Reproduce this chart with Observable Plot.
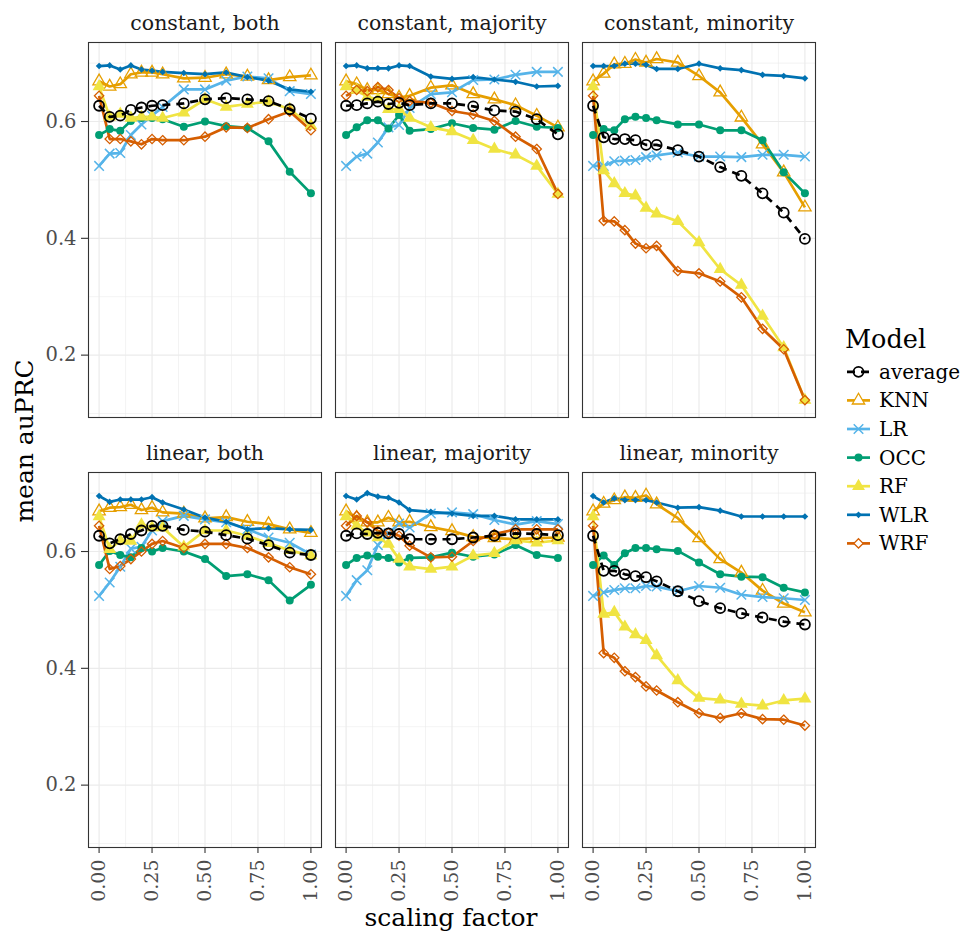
<!DOCTYPE html>
<html>
<head>
<meta charset="utf-8">
<script src="https://cdn.jsdelivr.net/npm/d3@7"></script>
<script src="https://cdn.jsdelivr.net/npm/@observablehq/plot@0.6"></script>
<style>
  html, body { margin: 0; padding: 0; background: #ffffff; }
  #chart { position: relative; width: 960px; height: 935px; }
</style>
</head>
<body>
<div id="chart"></div>
<script>
// Scaling factors evaluated on the x axis
const scalingFactor = [0, 0.05, 0.1, 0.15, 0.2, 0.25, 0.3, 0.4, 0.5, 0.6, 0.7, 0.8, 0.9, 1];

// Facet categories
const scalingTypes = ["constant", "linear"];
const targetGroups = ["both", "majority", "minority"];
const modelNames = ["average", "KNN", "LR", "OCC", "RF", "WLR", "WRF"];

// Tick values
const yTicks = [0.2, 0.4, 0.6];
const yMinorTicks = [0.1, 0.3, 0.5, 0.7];
const xTicks = [0, 0.25, 0.5, 0.75, 1];
const xMinorTicks = [0.125, 0.375, 0.625, 0.875];

// constant, both
const constantBothAverage = [0.627, 0.608, 0.610, 0.620, 0.624, 0.627, 0.628, 0.631, 0.638, 0.640, 0.638, 0.635, 0.621, 0.605];
const constantBothKNN     = [0.669, 0.660, 0.664, 0.681, 0.684, 0.684, 0.681, 0.674, 0.675, 0.681, 0.677, 0.671, 0.676, 0.679];
const constantBothLR      = [0.524, 0.545, 0.546, 0.577, 0.595, 0.610, 0.625, 0.655, 0.655, 0.670, 0.677, 0.674, 0.652, 0.647];
const constantBothOCC     = [0.577, 0.587, 0.584, 0.601, 0.606, 0.606, 0.604, 0.591, 0.600, 0.592, 0.589, 0.566, 0.514, 0.477];
const constantBothRF      = [0.660, 0.608, 0.613, 0.606, 0.608, 0.608, 0.606, 0.615, 0.638, 0.625, 0.630, 0.634, 0.621, 0.593];
const constantBothWLR     = [0.695, 0.696, 0.689, 0.696, 0.689, 0.687, 0.685, 0.683, 0.681, 0.684, 0.676, 0.670, 0.655, 0.651];
const constantBothWRF     = [0.644, 0.570, 0.570, 0.566, 0.561, 0.570, 0.568, 0.568, 0.574, 0.590, 0.589, 0.604, 0.617, 0.585];

// constant, majority
const constantMajorityAverage = [0.627, 0.628, 0.631, 0.634, 0.630, 0.632, 0.628, 0.631, 0.631, 0.626, 0.619, 0.617, 0.604, 0.578];
const constantMajorityKNN     = [0.669, 0.664, 0.654, 0.654, 0.647, 0.641, 0.644, 0.658, 0.662, 0.647, 0.638, 0.628, 0.610, 0.590];
const constantMajorityLR      = [0.524, 0.540, 0.545, 0.564, 0.590, 0.594, 0.623, 0.647, 0.650, 0.671, 0.672, 0.680, 0.685, 0.685];
const constantMajorityOCC     = [0.577, 0.590, 0.602, 0.602, 0.588, 0.611, 0.584, 0.587, 0.597, 0.589, 0.586, 0.601, 0.591, 0.589];
const constantMajorityRF      = [0.660, 0.654, 0.642, 0.638, 0.621, 0.621, 0.606, 0.590, 0.583, 0.568, 0.553, 0.543, 0.524, 0.476];
const constantMajorityWLR     = [0.695, 0.696, 0.691, 0.691, 0.691, 0.696, 0.695, 0.677, 0.673, 0.676, 0.672, 0.668, 0.660, 0.661];
const constantMajorityWRF     = [0.644, 0.654, 0.652, 0.659, 0.654, 0.640, 0.635, 0.632, 0.618, 0.612, 0.601, 0.574, 0.553, 0.476];

// constant, minority
const constantMinorityAverage = [0.627, 0.573, 0.570, 0.570, 0.568, 0.560, 0.560, 0.551, 0.540, 0.522, 0.507, 0.477, 0.444, 0.399];
const constantMinorityKNN     = [0.669, 0.682, 0.698, 0.699, 0.706, 0.701, 0.707, 0.701, 0.678, 0.650, 0.607, 0.561, 0.513, 0.453];
const constantMinorityLR      = [0.524, 0.524, 0.532, 0.533, 0.534, 0.539, 0.542, 0.547, 0.540, 0.540, 0.539, 0.543, 0.543, 0.540];
const constantMinorityOCC     = [0.577, 0.587, 0.585, 0.604, 0.608, 0.606, 0.602, 0.595, 0.595, 0.585, 0.585, 0.568, 0.513, 0.477];
const constantMinorityRF      = [0.660, 0.516, 0.494, 0.477, 0.473, 0.452, 0.442, 0.429, 0.393, 0.347, 0.320, 0.267, 0.213, 0.123];
const constantMinorityWLR     = [0.695, 0.695, 0.695, 0.699, 0.699, 0.697, 0.690, 0.690, 0.699, 0.691, 0.688, 0.680, 0.678, 0.674];
const constantMinorityWRF     = [0.644, 0.430, 0.429, 0.414, 0.391, 0.383, 0.387, 0.344, 0.340, 0.326, 0.299, 0.245, 0.210, 0.123];

// linear, both
const linearBothAverage = [0.627, 0.614, 0.621, 0.630, 0.636, 0.644, 0.644, 0.637, 0.634, 0.628, 0.622, 0.611, 0.598, 0.594];
const linearBothKNN     = [0.669, 0.675, 0.676, 0.680, 0.671, 0.675, 0.667, 0.665, 0.657, 0.659, 0.651, 0.647, 0.638, 0.632];
const linearBothLR      = [0.524, 0.547, 0.574, 0.605, 0.608, 0.636, 0.652, 0.661, 0.655, 0.650, 0.638, 0.624, 0.615, 0.595];
const linearBothOCC     = [0.577, 0.601, 0.594, 0.590, 0.606, 0.600, 0.606, 0.600, 0.587, 0.558, 0.561, 0.551, 0.516, 0.543];
const linearBothRF      = [0.660, 0.604, 0.619, 0.618, 0.646, 0.641, 0.641, 0.608, 0.636, 0.636, 0.627, 0.614, 0.602, 0.593];
const linearBothWLR     = [0.695, 0.685, 0.689, 0.689, 0.689, 0.693, 0.684, 0.672, 0.658, 0.651, 0.638, 0.640, 0.638, 0.637];
const linearBothWRF     = [0.644, 0.570, 0.575, 0.587, 0.600, 0.613, 0.618, 0.606, 0.613, 0.613, 0.606, 0.590, 0.573, 0.561];

// linear, majority
const linearMajorityAverage = [0.627, 0.631, 0.630, 0.632, 0.631, 0.630, 0.621, 0.621, 0.621, 0.624, 0.627, 0.631, 0.630, 0.628];
const linearMajorityKNN     = [0.669, 0.658, 0.650, 0.650, 0.658, 0.650, 0.651, 0.642, 0.635, 0.625, 0.623, 0.621, 0.623, 0.624];
const linearMajorityLR      = [0.524, 0.551, 0.568, 0.611, 0.631, 0.648, 0.641, 0.665, 0.667, 0.664, 0.654, 0.646, 0.652, 0.647];
const linearMajorityOCC     = [0.577, 0.589, 0.593, 0.591, 0.589, 0.581, 0.589, 0.590, 0.598, 0.591, 0.595, 0.611, 0.594, 0.589];
const linearMajorityRF      = [0.660, 0.644, 0.632, 0.624, 0.613, 0.587, 0.574, 0.570, 0.574, 0.593, 0.597, 0.619, 0.615, 0.619];
const linearMajorityWLR     = [0.695, 0.689, 0.700, 0.694, 0.692, 0.684, 0.671, 0.668, 0.665, 0.661, 0.661, 0.655, 0.655, 0.655];
const linearMajorityWRF     = [0.644, 0.661, 0.650, 0.635, 0.632, 0.627, 0.610, 0.590, 0.591, 0.618, 0.630, 0.638, 0.638, 0.638];

// linear, minority
const linearMinorityAverage = [0.627, 0.567, 0.567, 0.561, 0.558, 0.556, 0.549, 0.532, 0.515, 0.503, 0.494, 0.487, 0.480, 0.475];
const linearMinorityKNN     = [0.669, 0.682, 0.688, 0.693, 0.692, 0.696, 0.681, 0.657, 0.623, 0.587, 0.564, 0.533, 0.511, 0.496];
const linearMinorityLR      = [0.524, 0.530, 0.534, 0.537, 0.537, 0.541, 0.540, 0.532, 0.541, 0.538, 0.526, 0.522, 0.520, 0.517];
const linearMinorityOCC     = [0.577, 0.593, 0.577, 0.597, 0.606, 0.606, 0.604, 0.601, 0.581, 0.561, 0.557, 0.556, 0.538, 0.530];
const linearMinorityRF      = [0.660, 0.493, 0.496, 0.471, 0.458, 0.448, 0.422, 0.379, 0.349, 0.346, 0.339, 0.336, 0.345, 0.348];
const linearMinorityWLR     = [0.695, 0.684, 0.691, 0.688, 0.688, 0.688, 0.684, 0.675, 0.676, 0.670, 0.660, 0.660, 0.660, 0.660];
const linearMinorityWRF     = [0.644, 0.426, 0.418, 0.395, 0.385, 0.369, 0.362, 0.342, 0.323, 0.315, 0.323, 0.313, 0.312, 0.302];

// Panel registry: which series belong to which facet
const panels = [
  {scaling: "constant", target: "both", series: [constantBothAverage, constantBothKNN, constantBothLR, constantBothOCC, constantBothRF, constantBothWLR, constantBothWRF]},
  {scaling: "constant", target: "majority", series: [constantMajorityAverage, constantMajorityKNN, constantMajorityLR, constantMajorityOCC, constantMajorityRF, constantMajorityWLR, constantMajorityWRF]},
  {scaling: "constant", target: "minority", series: [constantMinorityAverage, constantMinorityKNN, constantMinorityLR, constantMinorityOCC, constantMinorityRF, constantMinorityWLR, constantMinorityWRF]},
  {scaling: "linear", target: "both", series: [linearBothAverage, linearBothKNN, linearBothLR, linearBothOCC, linearBothRF, linearBothWLR, linearBothWRF]},
  {scaling: "linear", target: "majority", series: [linearMajorityAverage, linearMajorityKNN, linearMajorityLR, linearMajorityOCC, linearMajorityRF, linearMajorityWLR, linearMajorityWRF]},
  {scaling: "linear", target: "minority", series: [linearMinorityAverage, linearMinorityKNN, linearMinorityLR, linearMinorityOCC, linearMinorityRF, linearMinorityWLR, linearMinorityWRF]}
];

// Long-format table for Plot
const rows = panels.flatMap(p =>
  modelNames.flatMap((model, i) =>
    p.series[i].map((value, j) => ({scaling: p.scaling, target: p.target, model, x: scalingFactor[j], y: value}))
  )
);

// Visual encoding per model (colour, point shape)
const modelStyle = {
  average: {color: "#000000", symbol: "circle",   filled: false, r: 5.0, sw: 1.8},
  KNN:     {color: "#E69F00", symbol: "triangle", filled: false, r: 4.6, sw: 1.3},
  LR:      {color: "#56B4E9", symbol: "times",    filled: false, r: 4.4, sw: 1.5},
  OCC:     {color: "#009E73", symbol: "circle",   filled: true,  r: 4.0, sw: 0},
  RF:      {color: "#F0E442", symbol: "triangle", filled: true,  r: 4.8, sw: 0},
  WLR:     {color: "#0072B2", symbol: "diamond2", filled: true,  r: 3.0, sw: 0},
  WRF:     {color: "#D55E00", symbol: "diamond2", filled: false, r: 4.2, sw: 1.3}
};

const facetChannels = {fx: "target", fy: "scaling"};
const seriesOf = m => rows.filter(d => d.model === m);

const lineMark = m => Plot.line(seriesOf(m), {
  x: "x", y: "y", ...facetChannels,
  stroke: modelStyle[m].color, strokeWidth: 2.7,
  strokeLinejoin: "round", strokeLinecap: "butt",
  strokeDasharray: m === "average" ? "8,6" : null
});

const dotMark = m => {
  const s = modelStyle[m];
  return Plot.dot(seriesOf(m), {
    x: "x", y: "y", ...facetChannels,
    symbol: s.symbol, r: s.r,
    fill: s.filled ? s.color : "none",
    stroke: s.filled ? "none" : s.color,
    strokeWidth: s.sw
  });
};

const models = modelNames.filter(m => m !== "average");

const chart = Plot.plot({
  width: 960,
  height: 935,
  marginLeft: 87,
  marginRight: 145,
  marginTop: 42,
  marginBottom: 88,
  style: {fontFamily: "'DejaVu Serif', serif", background: "#ffffff", overflow: "visible"},
  fx: {domain: targetGroups, paddingInner: 0.058, paddingOuter: 0, axis: null},
  fy: {domain: scalingTypes, paddingInner: 0.128, paddingOuter: 0, axis: null},
  x: {domain: [-0.05, 1.05]},
  y: {domain: [0.0932, 0.7353]},
  marks: [
    Plot.gridX({ticks: xMinorTicks, stroke: "#EBEBEB", strokeOpacity: 1, strokeWidth: 0.6}),
    Plot.gridY({ticks: yMinorTicks, stroke: "#EBEBEB", strokeOpacity: 1, strokeWidth: 0.6}),
    Plot.gridX({ticks: xTicks, stroke: "#EBEBEB", strokeOpacity: 1, strokeWidth: 1.2}),
    Plot.gridY({ticks: yTicks, stroke: "#EBEBEB", strokeOpacity: 1, strokeWidth: 1.2}),
    ...models.map(lineMark),
    ...models.map(dotMark),
    lineMark("average"),
    dotMark("average"),
    Plot.frame({stroke: "#333333", strokeWidth: 1.1}),
    Plot.axisY({ticks: yTicks, tickFormat: d3.format(".1f"), tickSize: 7, tickPadding: 5, label: null, fontSize: 19.5,
                stroke: "#333333", fill: "#4D4D4D", strokeWidth: 1.1}),
    Plot.axisX({ticks: xTicks, tickFormat: d3.format(".2f"), tickRotate: -90, tickSize: 6, tickPadding: 6,
                label: null, fontSize: 19, stroke: "#333333", fill: "#4D4D4D", strokeWidth: 1.1}),
    Plot.text(panels, {fx: "target", fy: "scaling", text: d => `${d.scaling}, ${d.target}`,
                       frameAnchor: "top", lineAnchor: "bottom", dy: -13, fontSize: 20.5, fill: "#1A1A1A"})
  ]
});

document.getElementById("chart").appendChild(chart);

// Axis titles and legend
const svg = d3.select(chart);
const font = "'DejaVu Serif', serif";

svg.append("text")
  .attr("x", 451).attr("y", 926)
  .attr("text-anchor", "middle")
  .style("font-family", font).style("font-size", "25px").attr("fill", "#000")
  .text("scaling factor");

svg.append("text")
  .attr("transform", "translate(33,441) rotate(-90)")
  .attr("text-anchor", "middle")
  .style("font-family", font).style("font-size", "25px").attr("fill", "#000")
  .text("mean auPRC");

const legend = svg.append("g").attr("transform", "translate(845,0)").attr("text-anchor", "start");
legend.append("text")
  .attr("x", 0).attr("y", 348)
  .attr("text-anchor", "start")
  .style("font-family", font).style("font-size", "25.5px").attr("fill", "#000")
  .text("Model");

const symbolTypes = {circle: d3.symbolCircle, triangle: d3.symbolTriangle, times: d3.symbolTimes, diamond2: d3.symbolDiamond2};

modelNames.forEach((m, i) => {
  const s = modelStyle[m];
  const g = legend.append("g").attr("transform", `translate(0,${371.8 + i * 28.6})`);
  g.append("line")
    .attr("x1", 2).attr("x2", 25).attr("y1", 0).attr("y2", 0)
    .attr("stroke", s.color).attr("stroke-width", 2.7)
    .attr("stroke-dasharray", m === "average" ? "8,6" : null);
  g.append("path")
    .attr("transform", "translate(13.5,0)")
    .attr("d", d3.symbol(symbolTypes[s.symbol], Math.PI * s.r * s.r)())
    .attr("fill", s.filled ? s.color : (m === "average" ? "none" : "#ffffff"))
    .attr("stroke", s.filled ? "none" : s.color)
    .attr("stroke-width", s.sw);
  g.append("text")
    .attr("x", 34).attr("y", 0).attr("dy", "0.35em")
    .attr("text-anchor", "start")
    .style("font-family", font).style("font-size", "20px").attr("fill", "#000")
    .text(m);
});
</script>
</body>
</html>
